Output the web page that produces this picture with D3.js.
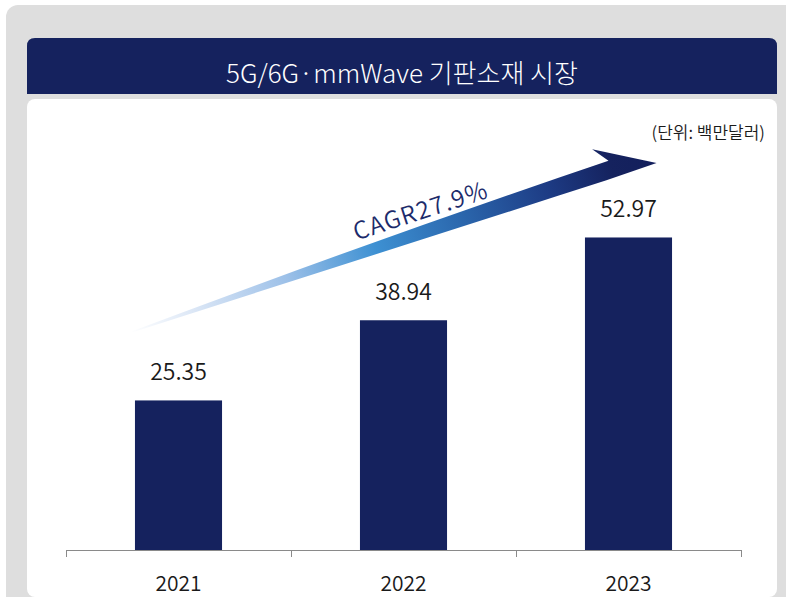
<!DOCTYPE html>
<html>
<head>
<meta charset="utf-8">
<script src="https://cdn.jsdelivr.net/npm/d3@7"></script>
<style>
  body { margin: 0; background: #fff; }
  svg { display: block; font-family: "Noto Sans CJK KR", "Noto Sans", sans-serif; }
</style>
</head>
<body>
<div id="chart"></div>
<script>
// data
var years = ['2021', '2022', '2023'];
var values = [25.35, 38.94, 52.97];
var titleText = '5G/6G·mmWave 기판소재 시장';
var unitText = '(단위: 백만달러)';
var cagrText = 'CAGR27.9%';

var navy = '#15225e';

// dimensions
var dimensions = {
  width: 786,
  height: 597,
  axisLeft: 66,
  axisRight: 741,
  baseline: 550,
  top: 196
};

var svg = d3.select('#chart')
  .append('svg')
  .attr('width', dimensions.width)
  .attr('height', dimensions.height);

// panel + card
svg.append('rect')
  .attr('x', 6).attr('y', 5)
  .attr('width', 800).attr('height', 620)
  .attr('rx', 12)
  .attr('fill', '#dedede');

svg.append('rect')
  .attr('x', 27).attr('y', 99)
  .attr('width', 750).attr('height', 498)
  .attr('rx', 8)
  .attr('fill', '#ffffff');

svg.append('path')
  .attr('d', 'M27,94 V46 Q27,38 35,38 H769 Q777,38 777,46 V94 Z')
  .attr('fill', navy);

svg.append('text')
  .attr('x', 402)
  .attr('y', 83)
  .attr('text-anchor', 'middle')
  .attr('fill', '#ffffff')
  .attr('font-size', 26)
  .attr('font-weight', 300)
  .text(titleText);

svg.append('text')
  .attr('x', 765)
  .attr('y', 139)
  .attr('text-anchor', 'end')
  .attr('fill', '#1a1a1a')
  .attr('font-size', 17)
  .attr('font-weight', 350)
  .text(unitText);

// scales
var xScale = d3.scaleBand()
  .domain(years)
  .range([dimensions.axisLeft, dimensions.axisRight])
  .paddingInner(0.613)
  .paddingOuter(0.3065);

var yScale = d3.scaleLinear()
  .domain([0, 60])
  .range([dimensions.baseline, dimensions.top]);

var step = xScale.step();
var boundaries = d3.range(years.length + 1).map(i => dimensions.axisLeft + i * step);

// CAGR arrow
var defs = svg.append('defs');
var grad = defs.append('linearGradient')
  .attr('id', 'arrowGrad')
  .attr('gradientUnits', 'userSpaceOnUse')
  .attr('x1', 0).attr('y1', 0)
  .attr('x2', 553).attr('y2', 0);

[
  [0, '#ffffff'],
  [0.12, '#dce7f6'],
  [0.3, '#9cc0e8'],
  [0.47, '#3d90d2'],
  [0.62, '#2c6ab0'],
  [0.8, '#1d3b84'],
  [0.92, '#15225e'],
  [1, '#131f5c']
].forEach(s => {
  grad.append('stop').attr('offset', s[0]).attr('stop-color', s[1]);
});

var arrow = svg.append('g')
  .attr('transform', 'translate(130,332) rotate(-18)');

arrow.append('path')
  .attr('d', 'M0,0 Q260,-12 508,-15 L496,-31 L553,2 L500,3 Q250,2 0,1 Z')
  .attr('fill', 'url(#arrowGrad)');

arrow.append('text')
  .attr('x', 314)
  .attr('y', -17)
  .attr('text-anchor', 'middle')
  .attr('fill', '#1c2b6b')
  .attr('font-size', 24)
  .attr('font-weight', 350)
  .attr('letter-spacing', 1.3)
  .text(cagrText);

// bars
svg.append('g')
  .selectAll('rect')
  .data(values)
  .join('rect')
  .attr('x', (d, i) => xScale(years[i]))
  .attr('y', d => yScale(d))
  .attr('width', xScale.bandwidth())
  .attr('height', d => yScale(0) - yScale(d))
  .attr('fill', navy);

svg.append('g')
  .selectAll('text')
  .data(values)
  .join('text')
  .attr('x', (d, i) => xScale(years[i]) + xScale.bandwidth() / 2)
  .attr('y', d => yScale(d) - 20)
  .attr('text-anchor', 'middle')
  .attr('fill', '#1a1a1a')
  .attr('font-size', 23)
  .attr('font-weight', 350)
  .text(d => d.toFixed(2));

// axis
var xAxis = d3.axisBottom(xScale)
  .tickSize(0)
  .tickPadding(26);

var xAxisGroup = svg.append('g')
  .attr('transform', 'translate(0,' + dimensions.baseline + ')')
  .call(xAxis);

xAxisGroup.select('.domain').remove();
xAxisGroup.selectAll('text')
  .attr('font-size', 21)
  .attr('font-weight', 350)
  .attr('fill', '#1a1a1a')
  .attr('font-family', '"Noto Sans CJK KR", sans-serif');

xAxisGroup.append('line')
  .attr('x1', dimensions.axisLeft)
  .attr('x2', dimensions.axisRight)
  .attr('y1', 0.5).attr('y2', 0.5)
  .attr('stroke', '#8a8a8a');

xAxisGroup.selectAll('.bound')
  .data(boundaries)
  .join('line')
  .attr('class', 'bound')
  .attr('x1', d => Math.round(d) + 0.5)
  .attr('x2', d => Math.round(d) + 0.5)
  .attr('y1', 0)
  .attr('y2', 7)
  .attr('stroke', '#8a8a8a');
</script>
</body>
</html>
